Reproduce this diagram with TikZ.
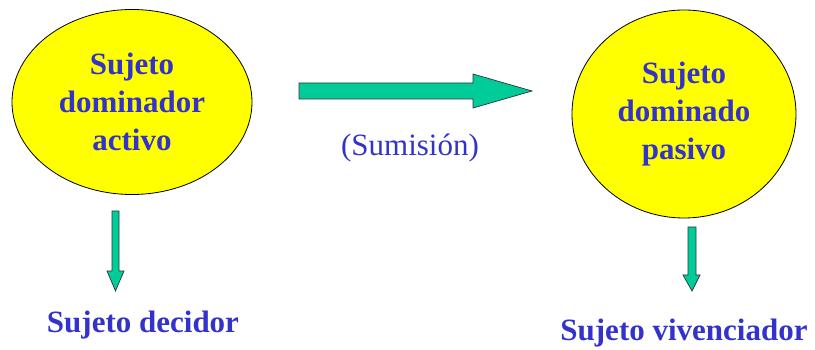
\documentclass[tikz,border=0pt]{standalone}
\usepackage{fontspec}
\setmainfont{Liberation Serif}[BoldFont={Liberation Serif Bold}]
\usetikzlibrary{shapes.geometric}
\definecolor{txtblue}{HTML}{3333CC}
\definecolor{arrgreen}{HTML}{00CC99}
\definecolor{ellyellow}{HTML}{FFFF00}
\tikzset{
  blob/.style={ellipse, draw=black, line width=0.8pt, fill=ellyellow, inner sep=0pt,
    align=center, text=txtblue, font=\fontsize{31}{38}\selectfont\bfseries},
  blockarrow/.style={draw=black!80, line width=0.7pt, fill=arrgreen, line join=miter},
  label/.style={text=txtblue, inner sep=0pt, font=\fontsize{31}{38}\selectfont\bfseries},
  plainlabel/.style={text=txtblue, inner sep=0pt, font=\fontsize{31}{38}\selectfont}
}
\begin{document}
\begin{tikzpicture}[x=1pt,y=-1pt]
\useasboundingbox (0,0) rectangle (815,350);
\node[blob, minimum width=240pt, minimum height=185pt] (act) at (132,102) {Sujeto\\dominador\\activo};
\node[blob, minimum width=224pt, minimum height=208pt] (pas) at (684,114) {Sujeto\\dominado\\pasivo};
% big arrow
\draw[blockarrow] (299,83) -- (473,83) -- (473,74) -- (532,91) -- (473,108) -- (473,99) -- (299,99) -- cycle;
\node[plainlabel] (sum) at (410,148) {(Sumisión)};
% left down arrow
\draw[blockarrow] (112,211) -- (119,211) -- (119,271) -- (124,271) -- (115.5,291) -- (107,271) -- (112,271) -- cycle;
\node[label] (dec) at (143,325) {Sujeto decidor};
% right down arrow
\draw[blockarrow] (688,227) -- (696,227) -- (696,275) -- (700,275) -- (692,291) -- (683,275) -- (688,275) -- cycle;
\node[label] (viv) at (684,333) {Sujeto vivenciador};
\end{tikzpicture}
\end{document}
